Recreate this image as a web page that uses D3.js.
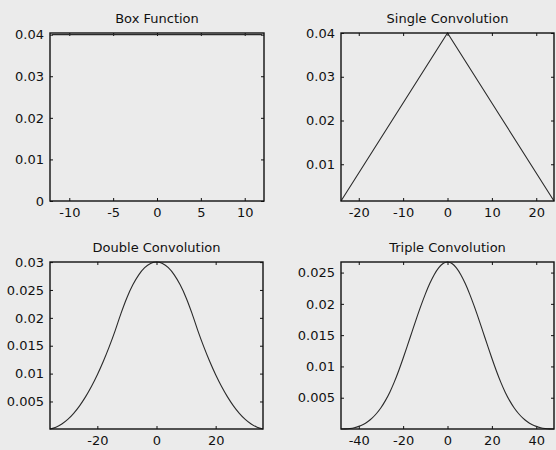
<!DOCTYPE html>
<html><head><meta charset="utf-8">
<script src="https://cdn.jsdelivr.net/npm/d3@7"></script>
<style>
html,body{margin:0;padding:0;background:#ebebeb;}
svg{display:block;}
</style></head>
<body>
<svg id="c" width="556" height="450"></svg>
<script>
// ---- data ----
const titles = ["Box Function", "Single Convolution", "Double Convolution", "Triple Convolution"];

const boxX = [-12, -6, 0, 6, 12];
const boxY = [0.04, 0.04, 0.04, 0.04, 0.04];

const singleX = [-24, -12, 0, 12, 24];
const singleY = [0.0016, 0.0208, 0.04, 0.0208, 0.0016];

const doubleX = [-36,-34,-32,-30,-28,-26,-24,-22,-20,-18,-16,-14,-12,-10,-8,-6,-4,-2,0,2,4,6,8,10,12,14,16,18,20,22,24,26,28,30,32,34,36];
const doubleY = [0.000064,0.000384,0.00096,0.001792,0.00288,0.004224,0.005824,0.00768,0.009792,0.01216,0.014784,0.017664,0.0208,0.023616,0.02592,0.027712,0.028992,0.02976,0.030016,
                 0.02976,0.028992,0.027712,0.02592,0.023616,0.0208,0.017664,0.014784,0.01216,0.009792,0.00768,0.005824,0.004224,0.00288,0.001792,0.00096,0.000384,0.000064];

const tripleX = [-48,-46,-44,-42,-40,-38,-36,-34,-32,-30,-28,-26,-24,-22,-20,-18,-16,-14,-12,-10,-8,-6,-4,-2,0,2,4,6,8,10,12,14,16,18,20,22,24,26,28,30,32,34,36,38,40,42,44,46,48];
const tripleY = [0.0000026,0.0000256,0.0000896,0.000215,0.0004224,0.0007322,0.0011648,0.0017408,0.0024806,0.0034048,0.0045338,0.005888,0.007488,0.0093133,0.0113024,0.0133939,0.0155264,0.0176384,0.0196685,0.0215552,0.0232371,0.0246528,0.0257408,0.0264397,0.026688,
                 0.0264397,0.0257408,0.0246528,0.0232371,0.0215552,0.0196685,0.0176384,0.0155264,0.0133939,0.0113024,0.0093133,0.007488,0.005888,0.0045338,0.0034048,0.0024806,0.0017408,0.0011648,0.0007322,0.0004224,0.000215,0.0000896,0.0000256,0.0000026];

const xTicks = [[-10,-5,0,5,10], [-20,-10,0,10,20], [-20,0,20], [-40,-20,0,20,40]];
const yTicks = [[0,0.01,0.02,0.03,0.04], [0.01,0.02,0.03,0.04], [0.005,0.01,0.015,0.02,0.025,0.03], [0.005,0.01,0.015,0.02,0.025]];
const xDomains = [[-12.2, 12.2], [-24, 24], [-36, 36], [-48, 48]];
const yDomains = [[0, 0.0404], [0.0016, 0.04], [0.000064, 0.030016], [0.0000026, 0.026688]];

// ---- layout ----
const boxes = [
  {x0: 50, x1: 264, y0: 33, y1: 201},
  {x0: 341, x1: 554, y0: 33, y1: 201},
  {x0: 50, x1: 263, y0: 262, y1: 429},
  {x0: 341, x1: 554, y0: 262, y1: 429}
];
const series = [[boxX, boxY], [singleX, singleY], [doubleX, doubleY], [tripleX, tripleY]];

const svg = d3.select("#c");
const font = "'DejaVu Sans', sans-serif";
const fmt = d => String(d);

series.forEach((s, i) => {
  const b = boxes[i];
  const x = d3.scaleLinear().domain(xDomains[i]).range([b.x0, b.x1]);
  const y = d3.scaleLinear().domain(yDomains[i]).range([b.y1, b.y0]);
  const g = svg.append("g");

  const ax = g.append("g").attr("transform", `translate(0,${b.y1})`)
    .call(d3.axisBottom(x).tickValues(xTicks[i]).tickSize(-3).tickSizeOuter(0).tickPadding(7).tickFormat(fmt));
  const ay = g.append("g").attr("transform", `translate(${b.x0},0)`)
    .call(d3.axisLeft(y).tickValues(yTicks[i]).tickSize(-3).tickSizeOuter(0).tickPadding(6).tickFormat(fmt));
  const at = g.append("g").attr("transform", `translate(0,${b.y0})`)
    .call(d3.axisTop(x).tickValues(xTicks[i]).tickSize(-3).tickSizeOuter(0).tickFormat(""));
  const ar = g.append("g").attr("transform", `translate(${b.x1},0)`)
    .call(d3.axisRight(y).tickValues(yTicks[i]).tickSize(-3).tickSizeOuter(0).tickFormat(""));
  [ax, ay, at, ar].forEach(a => {
    a.select(".domain").remove();
    a.selectAll("line").attr("stroke", "#111").attr("stroke-width", 1);
    a.selectAll("text").attr("font-family", font).attr("font-size", 13).attr("fill", "#111");
  });

  const line = d3.line().x((d, k) => x(s[0][k])).y((d, k) => y(s[1][k]))
    .curve(i === 1 ? d3.curveLinear : d3.curveMonotoneX);
  g.append("path").datum(s[1]).attr("d", line)
    .attr("fill", "none").attr("stroke", "#2a2a2a").attr("stroke-width", 1.1);

  g.append("rect").attr("x", b.x0).attr("y", b.y0)
    .attr("width", b.x1 - b.x0).attr("height", b.y1 - b.y0)
    .attr("fill", "none").attr("stroke", "#111").attr("stroke-width", 1.4);

  g.append("text").attr("x", (b.x0 + b.x1) / 2).attr("y", b.y0 - 10)
    .attr("text-anchor", "middle").attr("font-family", font).attr("font-size", 13)
    .attr("fill", "#111").text(titles[i]);
});
</script>
</body></html>
